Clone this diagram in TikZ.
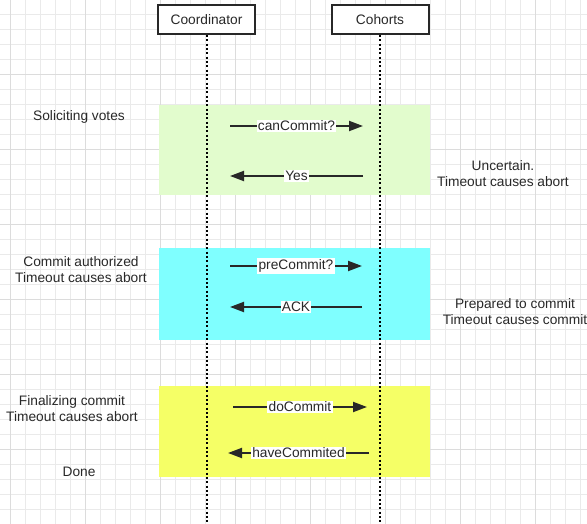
\documentclass[tikz,border=0pt]{standalone}
\usepackage{fontspec}
\setmainfont{Liberation Sans}
\usetikzlibrary{arrows.meta}
\definecolor{gridminor}{RGB}{234,234,234}
\definecolor{gridmajor}{RGB}{220,220,220}
\definecolor{phasegreen}{RGB}{226,252,205}
\definecolor{phasecyan}{RGB}{127,255,255}
\definecolor{phaseyellow}{RGB}{245,255,102}
\definecolor{ink}{RGB}{40,40,40}

\begin{document}
\begin{tikzpicture}[
  x=0.75pt, y=-0.75pt,
  font=\fontsize{10.3}{12}\selectfont, text=ink,
  actor/.style={draw=ink, line width=1.5pt, fill=white, minimum width=97*0.75pt,
                minimum height=29*0.75pt, inner sep=0pt},
  lifeline/.style={draw=black, line width=1.5pt, dash pattern=on 1.5pt off 1.75pt},
  msg/.style={draw=ink, line width=1.5pt, -{Triangle[length=10.5pt,width=7.5pt]}},
  lbl/.style={fill=white, inner sep=1pt, text=ink},
  note/.style={align=center, inner sep=0pt}
]
\useasboundingbox (0,0) rectangle (587,524);
\fill[white] (0,0) rectangle (587,524);
\foreach \gx in {10,25,...,580} \draw[gridminor, line width=0.75pt] (\gx,0) -- (\gx,524);
\foreach \gy in {0,15,...,520} \draw[gridminor, line width=0.75pt] (0,\gy) -- (587,\gy);
\foreach \gx in {10,85,...,580} \draw[gridmajor, line width=0.75pt] (\gx,0) -- (\gx,524);
\foreach \gy in {0,75,...,520} \draw[gridmajor, line width=0.75pt] (0,\gy) -- (587,\gy);

\fill[phasegreen] (159,105) rectangle (430,195);
\fill[phasecyan] (159,248) rectangle (430,340);
\fill[phaseyellow] (159,386) rectangle (430,477);

\node[actor] (coord) at (206.5,19.5) {Coordinator};
\node[actor] (cohort) at (380,19.5) {Cohorts};
\coordinate (coordend) at (206.5,524);
\coordinate (cohortend) at (380,524);
\draw[lifeline] (coord.south) -- (coordend);
\draw[lifeline] (cohort.south) -- (cohortend);

\coordinate (vote1) at (230,126);
\coordinate (vote2) at (363,126);
\coordinate (yes1) at (363,176);
\coordinate (yes2) at (230,176);
\coordinate (pre1) at (230,266);
\coordinate (pre2) at (362,266);
\coordinate (ack1) at (362,307);
\coordinate (ack2) at (230,307);
\coordinate (do1) at (233,407);
\coordinate (do2) at (367,407);
\coordinate (done1) at (369,453);
\coordinate (done2) at (228,453);
\draw[msg] (vote1) -- node[lbl] {canCommit?} (vote2);
\draw[msg] (yes1) -- node[lbl] {Yes} (yes2);
\draw[msg] (pre1) -- node[lbl] {preCommit?} (pre2);
\draw[msg] (ack1) -- node[lbl] {ACK} (ack2);
\draw[msg] (do1) -- node[lbl] {doCommit} (do2);
\draw[msg] (done1) -- node[lbl] {haveCommited} (done2);

\node[note] (solicit) at (79,117) {Soliciting votes};
\node[note] (authorized) at (81,270) {Commit authorized\\Timeout causes abort};
\node[note] (finalizing) at (72,409) {Finalizing commit\\Timeout causes abort};
\node[note] (done) at (79,472) {Done};
\node[note] (uncertain) at (503,174) {Uncertain.\\Timeout causes abort};
\node[note] (prepared) at (515,312) {Prepared to commit\\Timeout causes commit};
\end{tikzpicture}
\end{document}
